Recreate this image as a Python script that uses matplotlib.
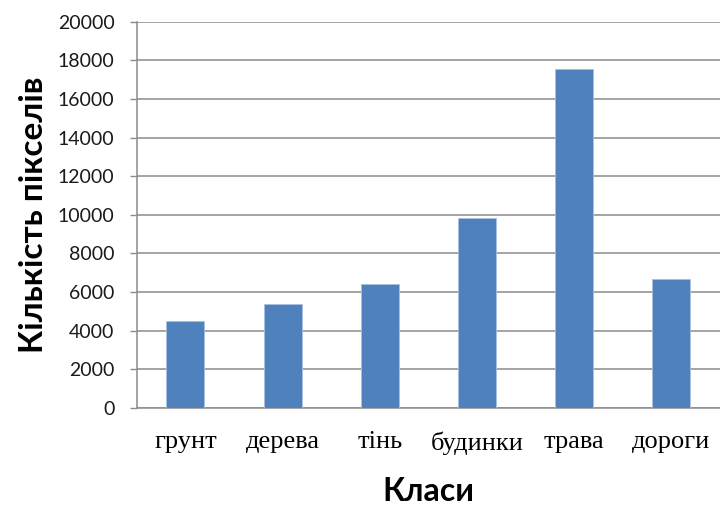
import matplotlib
matplotlib.use("Agg")
import matplotlib.pyplot as plt

classes = ['грунт', 'дерева', 'тінь', 'будинки', 'трава', 'дороги']
pixel_counts = [4500, 5400, 6400, 9850, 17550, 6650]
y_ticks = [0, 2000, 4000, 6000, 8000, 10000, 12000, 14000, 16000, 18000, 20000]

BAR_COLOR = '#4f81bd'
GRID_COLOR = '#8c8c8c'

fig = plt.figure(figsize=(7.2, 5.11), dpi=100)
ax = fig.add_axes([0.19, 0.202, 0.81, 0.7555])

x = list(range(len(classes)))
ax.bar(x, pixel_counts, width=0.39, color=BAR_COLOR,
       edgecolor='#a9c1e0', linewidth=0.6, zorder=3)

ax.set_xlim(-0.5, len(classes) - 0.5)
ax.set_ylim(0, 20000)
ax.set_yticks(y_ticks)
ax.set_yticklabels([str(v) for v in y_ticks], family='Lato', fontsize=14,
                   color='#1a1a1a')
ax.set_xticks(x)
ax.set_xticklabels(classes, family='Liberation Serif', fontsize=19,
                   color='black')

ax.yaxis.grid(True, color=GRID_COLOR, linewidth=1.1, zorder=0)
ax.set_axisbelow(True)
ax.tick_params(axis='y', length=5, width=1, color=GRID_COLOR, pad=11)
ax.tick_params(axis='x', length=0, pad=17)

for side in ('top', 'right'):
    ax.spines[side].set_visible(False)
for side in ('left', 'bottom'):
    ax.spines[side].set_color(GRID_COLOR)
    ax.spines[side].set_linewidth(1.1)

ax.set_ylabel('Кількість пікселів', family='Lato', fontweight='bold',
              fontsize=24, labelpad=7)
ax.set_xlabel('Класи', family='Lato', fontweight='bold', fontsize=23,
              labelpad=16)

fig.savefig('out.png', dpi=100)
